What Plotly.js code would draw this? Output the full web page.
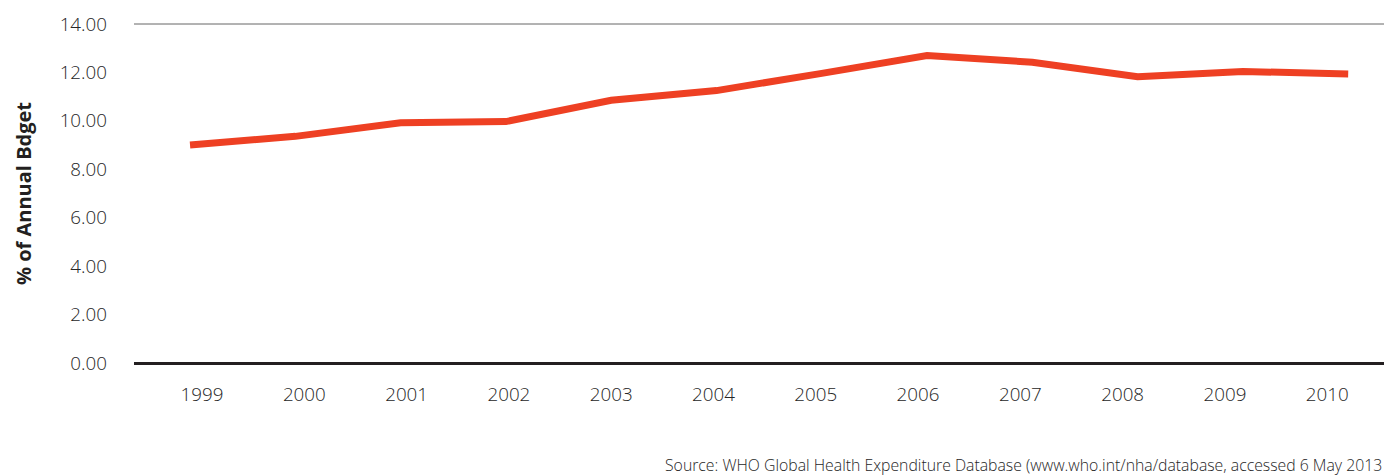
<!DOCTYPE html>
<html>
<head>
<meta charset="utf-8">
<script src="https://cdn.plot.ly/plotly-3.0.1.min.js"></script>
<style>html,body{margin:0;padding:0;background:#fff;}#chart{width:1384px;height:475px;}</style>
</head>
<body>
<div id="chart"></div>
<script>
const years = ['1999','2000','2001','2002','2003','2004','2005','2006','2007','2008','2009','2010'];
const share = [9.0, 9.36, 9.92, 9.97, 10.85, 11.25, 11.96, 12.70, 12.42, 11.82, 12.04, 11.94];
const yTicks = [0, 2, 4, 6, 8, 10, 12, 14];
const yTickText = ['0.00','2.00','4.00','6.00','8.00','10.00','12.00','14.00'];
const yTitle = '% of Annual Bdget';
const sourceText = 'Source: WHO Global Health Expenditure Database (www.who.int/nha/database, accessed 6 May 2013';

const idx = years.map((_, i) => i);
const fam = '"Open Sans", Lato, sans-serif';
const tickFont = {family: fam, size: 18.8, color: '#262626', weight: 300};

const traces = [
  { // carrier for the category axis labels (invisible)
    x: idx, y: share, xaxis: 'x', yaxis: 'y',
    type: 'scatter', mode: 'lines', line: {color: 'rgba(0,0,0,0)', width: 0},
    hoverinfo: 'skip', showlegend: false
  },
  {
    x: idx, y: share, xaxis: 'x2', yaxis: 'y',
    type: 'scatter', mode: 'lines',
    line: {color: '#ee4023', width: 7},
    hoverinfo: 'skip', showlegend: false
  }
];

const layout = {
  width: 1384, height: 475,
  margin: {l: 134, r: 0, t: 24, b: 112},
  paper_bgcolor: '#fff', plot_bgcolor: '#fff',
  showlegend: false,
  xaxis: {
    range: [-0.665, 11.555], tickmode: 'array', tickvals: idx, ticktext: years,
    showgrid: false, zeroline: false, showline: false, ticks: '',
    tickfont: tickFont, ticklabelstandoff: 18, fixedrange: true
  },
  xaxis2: {
    range: [-0.532, 11.34], overlaying: 'x', visible: false, fixedrange: true
  },
  yaxis: {
    range: [0, 14], tickmode: 'array', tickvals: yTicks, ticktext: yTickText,
    showgrid: false,
    zeroline: true, zerolinecolor: '#231f20', zerolinewidth: 3,
    showline: false, ticks: '', tickfont: tickFont, ticklabelstandoff: 26,
    title: {text: yTitle, font: {family: fam, size: 20, color: '#231f20', weight: 700}, standoff: 22},
    fixedrange: true
  },
  shapes: [{
    type: 'line', xref: 'paper', yref: 'paper', x0: 0, x1: 1, y0: 1, y1: 1,
    line: {color: '#666', width: 1}, layer: 'below'
  }],
  annotations: [{
    text: sourceText, xref: 'paper', yref: 'paper', x: 1, y: 0, yshift: -102,
    xanchor: 'right', yanchor: 'middle', showarrow: false,
    font: {family: fam, size: 15.8, color: '#262626', weight: 300}
  }]
};

Plotly.newPlot('chart', traces, layout, {displayModeBar: false, staticPlot: true});
</script>
</body>
</html>
